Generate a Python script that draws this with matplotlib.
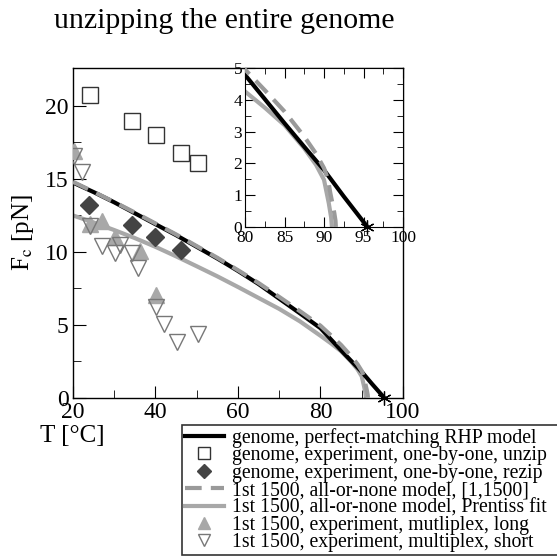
import matplotlib
matplotlib.use("Agg")
import matplotlib.pyplot as plt
import numpy as np
from matplotlib.lines import Line2D

plt.rcParams['font.family'] = ['Liberation Serif', 'DejaVu Serif']
plt.rcParams['mathtext.fontset'] = 'stix'

# RHP model (genome, perfect matching)
rhp_T = [20, 25, 30, 35, 40, 45, 50, 55, 60, 65, 70, 75, 80, 82.5, 85, 87.5, 90, 92.5, 95.5]
rhp_F = [14.75, 14.1, 13.4, 12.65, 11.9, 11.15, 10.35, 9.55, 8.7, 7.8, 6.8, 5.8, 4.78, 4.02, 3.26, 2.52, 1.79, 0.96, 0.0]

# all-or-none model [1,1500]
aon_T = [20, 25, 30, 35, 40, 45, 50, 55, 60, 65, 70, 75, 80, 82.5, 85, 87.5, 89, 90, 90.5, 90.8, 91.1, 91.3, 91.45, 91.5]
aon_F = [14.8, 14.12, 13.42, 12.7, 11.95, 11.2, 10.4, 9.6, 8.75, 7.87, 6.92, 5.95, 4.95, 4.3, 3.63, 2.84, 2.3, 1.85, 1.5, 1.06, 0.7, 0.44, 0.2, 0.0]

# all-or-none model, Prentiss fit
pre_T = [20, 25, 30, 35, 40, 45, 50, 55, 60, 65, 70, 75, 80, 82.5, 85, 87.5, 89, 90, 90.6, 90.9, 91.0]
pre_F = [12.5, 12.02, 11.5, 10.95, 10.35, 9.7, 9.02, 8.33, 7.6, 6.85, 6.1, 5.25, 4.26, 3.75, 3.2, 2.47, 1.95, 1.48, 0.75, 0.3, 0.0]

# experiments
unzip_T = [24.1, 34.2, 40.1, 46.2, 50.2]
unzip_F = [20.75, 19.0, 18.0, 16.8, 16.1]

rezip_T = [23.9, 34.2, 39.9, 46.2]
rezip_F = [13.2, 11.85, 11.0, 10.1]

long_T = [20.3, 24.1, 27.0, 30.2, 36.2, 40.1]
long_F = [16.9, 11.9, 12.1, 11.05, 10.05, 7.05]

short_T = [20.3, 22.1, 24.1, 27.0, 30.2, 31.4, 34.2, 35.8, 40.1, 42.1, 45.1, 50.2]
short_F = [16.6, 15.5, 11.8, 10.4, 9.9, 10.5, 9.9, 8.9, 6.2, 5.1, 3.85, 4.35]

melt_T = [95.5]
melt_F = [0.0]

legend_labels = [
    "genome, perfect-matching RHP model",
    "genome, experiment, one-by-one, unzip",
    "genome, experiment, one-by-one, rezip",
    "1st 1500, all-or-none model, [1,1500]",
    "1st 1500, all-or-none model, Prentiss fit",
    "1st 1500, experiment, mutliplex, long",
    "1st 1500, experiment, multiplex, short",
]

GRAY = '#a8a8a8'
DASHGRAY = '#9a9a9a'
DGRAY = '#444444'
DASH = (4.0, 2.2)

fig = plt.figure(figsize=(5.57, 5.57), dpi=100)
ax = fig.add_axes([0.131, 0.2855, 0.5925, 0.5925])

def draw_curves(a, lw=3.0):
    a.plot(pre_T, pre_F, color=GRAY, lw=lw, solid_capstyle='butt', solid_joinstyle='round', zorder=2)
    a.plot(rhp_T, rhp_F, color='black', lw=lw, solid_capstyle='butt', solid_joinstyle='round', zorder=3)
    a.plot(aon_T, aon_F, color=DASHGRAY, lw=lw, dashes=DASH, zorder=4)
    a.plot(melt_T, melt_F, marker=(6, 2, 0), ms=10, color='black', mew=0.9,
           ls='none', zorder=6, clip_on=False)

draw_curves(ax)
ax.plot(unzip_T, unzip_F, ls='none', marker='s', ms=11, mfc='none', mec='#333333', mew=1.0, zorder=5)
ax.plot(rezip_T, rezip_F, ls='none', marker='D', ms=9, mfc=DGRAY, mec=DGRAY, zorder=5)
ax.plot(long_T, long_F, ls='none', marker='^', ms=11, mfc=GRAY, mec=GRAY, zorder=5)
ax.plot(short_T, short_F, ls='none', marker='v', ms=11, mfc='none', mec='#777777', mew=1.0, zorder=5)

ax.set_xlim(20, 100)
ax.set_ylim(0, 22.6)
ax.set_xticks([20, 40, 60, 80, 100])
ax.set_xticks([30, 50, 70, 90], minor=True)
ax.set_yticks([0, 5, 10, 15, 20])
ax.set_yticks([2.5, 7.5, 12.5, 17.5], minor=True)
ax.tick_params(which='both', direction='in', labelsize=17, top=False, right=False, pad=3)
ax.tick_params(which='major', length=9)
ax.tick_params(which='minor', length=5.5)
for s in ax.spines.values():
    s.set_linewidth(1.0)
ax.set_ylabel('F$_\\mathrm{c}$ [pN]', fontsize=18, labelpad=6.5)
fig.text(0.072, 0.217, 'T [°C]', fontsize=18, ha='left', va='center')

# inset
ins = fig.add_axes([0.44, 0.5925, 0.2835, 0.2855])
draw_curves(ins)
ins.set_xlim(80, 100)
ins.set_ylim(0, 5)
ins.set_xticks([80, 85, 90, 95, 100])
ins.set_xticks(np.arange(82.5, 100, 5), minor=True)
ins.set_yticks([0, 1, 2, 3, 4, 5])
ins.set_yticks(np.arange(0.5, 5, 1), minor=True)
ins.tick_params(which='both', direction='in', labelsize=12.5, top=True, right=True, pad=2)
ins.tick_params(which='major', length=7)
ins.tick_params(which='minor', length=4)

fig.text(0.402, 0.985, 'unzipping the entire genome', fontsize=21.5, ha='center', va='top')

handles = [
    Line2D([], [], color='black', lw=3),
    Line2D([], [], ls='none', marker='s', ms=8, mfc='none', mec='#333333'),
    Line2D([], [], ls='none', marker='D', ms=7.5, mfc=DGRAY, mec=DGRAY),
    Line2D([], [], color=DASHGRAY, lw=3, dashes=DASH),
    Line2D([], [], color=GRAY, lw=3),
    Line2D([], [], ls='none', marker='^', ms=8, mfc=GRAY, mec=GRAY),
    Line2D([], [], ls='none', marker='v', ms=8, mfc='none', mec='#777777'),
]
leg = fig.legend(handles, legend_labels, loc='lower left',
                 bbox_to_anchor=(0.327, 0.003, 0.69, 0.2), mode='expand',
                 fontsize=14.2, frameon=True, fancybox=False, edgecolor='black',
                 handlelength=1.95, handletextpad=0.45, borderpad=0.15, labelspacing=-0.08,
                 borderaxespad=0)
leg.get_frame().set_linewidth(1.2)

fig.savefig('out.png', dpi=100)
